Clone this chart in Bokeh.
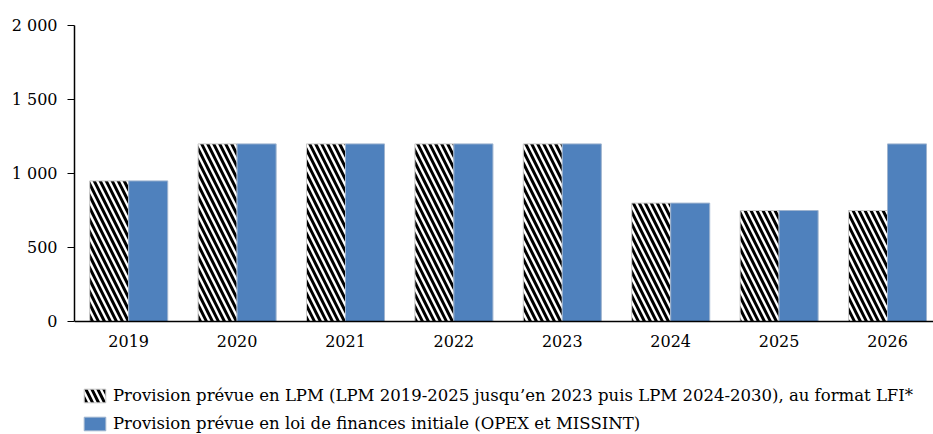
from bokeh.plotting import figure
from bokeh.models import Range1d, FixedTicker, Legend, LegendItem, ColumnDataSource
from bokeh.embed import file_html
from bokeh.resources import INLINE

years = ["2019", "2020", "2021", "2022", "2023", "2024", "2025", "2026"]
lpm = [950, 1200, 1200, 1200, 1200, 800, 750, 750]
lfi = [950, 1200, 1200, 1200, 1200, 800, 750, 1200]
y_ticks = [0, 500, 1000, 1500, 2000]
y_labels = ["0", "500", "1 000", "1 500", "2 000"]
label_lpm = "Provision prévue en LPM (LPM 2019-2025 jusqu’en 2023 puis LPM 2024-2030), au format LFI*"
label_lfi = "Provision prévue en loi de finances initiale (OPEX et MISSINT)"

FONT = "DejaVu Serif"
BLUE = "#4f81bd"

centers = [i + 0.5 for i in range(len(years))]
off = 0.18
bw = 0.36
src = ColumnDataSource(dict(
    x1=[c - off for c in centers],
    x2=[c + off for c in centers],
    lpm=lpm, lfi=lfi,
))

# frame covers chart + legend area; 296 px per 2000 units above the baseline
p = figure(frame_width=859, frame_height=409, min_border_left=74, min_border_right=0,
           min_border_top=25, min_border_bottom=0,
           x_range=Range1d(0, 859 / 108.4), y_range=Range1d(-113 / 296 * 2000, 2000),
           output_backend="svg", toolbar_location=None)

r1 = p.vbar(x="x1", top="lpm", width=bw, source=src, fill_color="white",
            hatch_pattern="\\", hatch_color="black", hatch_scale=12, hatch_weight=3,
            line_color="#c8c8c8", line_width=1)
r2 = p.vbar(x="x2", top="lfi", width=bw, source=src, fill_color=BLUE,
            line_color="#9fb4cf", line_width=1)

p.xgrid.visible = False
p.ygrid.visible = False
p.outline_line_color = None

p.xaxis.fixed_location = 0
p.xaxis.ticker = FixedTicker(ticks=centers)
p.xaxis.major_label_overrides = {c: y for c, y in zip(centers, years)}
p.xaxis.major_tick_line_color = None
p.xaxis.minor_tick_line_color = None
p.xaxis.axis_line_color = "black"
p.xaxis.axis_line_width = 1.5
p.xaxis.major_label_standoff = 7

p.yaxis.bounds = (0, 2000)
p.yaxis.ticker = FixedTicker(ticks=y_ticks)
p.yaxis.major_label_overrides = {t: l for t, l in zip(y_ticks, y_labels)}
p.yaxis.minor_tick_line_color = None
p.yaxis.major_tick_in = 0
p.yaxis.major_tick_out = 7
p.yaxis.major_tick_line_color = "black"
p.yaxis.axis_line_color = "black"
p.yaxis.axis_line_width = 1.5
p.yaxis.major_label_standoff = 10

for ax in (p.xaxis, p.yaxis):
    ax.major_label_text_font = FONT
    ax.major_label_text_font_size = "16px"
    ax.major_label_text_color = "black"

legend = Legend(items=[LegendItem(label=label_lpm, renderers=[r1]),
                       LegendItem(label=label_lfi, renderers=[r2])],
                location=(7, 1), orientation="vertical",
                glyph_width=27, glyph_height=17, label_standoff=5, spacing=8,
                padding=0, margin=0, border_line_alpha=0, background_fill_alpha=0,
                label_text_font=FONT, label_text_font_size="16.5px",
                label_text_color="black", label_height=20)
p.add_layout(legend, "center")

open("out.html", "w").write(file_html(p, INLINE))
